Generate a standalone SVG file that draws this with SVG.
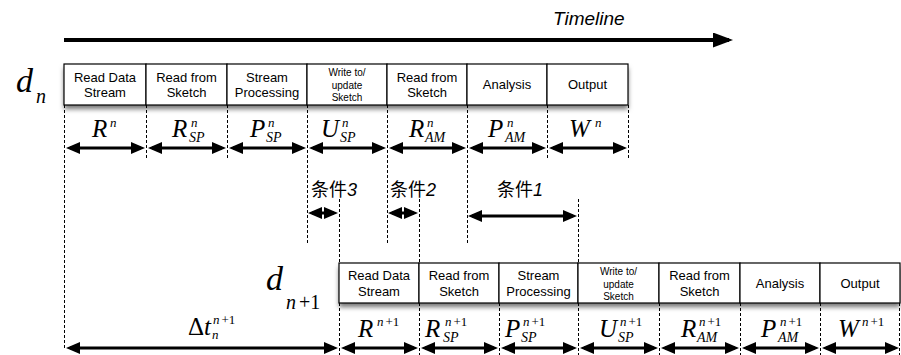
<svg xmlns="http://www.w3.org/2000/svg" width="901" height="355" viewBox="0 0 901 355">
<defs>
<style>
.cell{fill:#fff;stroke:#000;stroke-width:1.2}
.t{font-family:"Liberation Sans",Arial,sans-serif;font-size:13px;fill:#000;text-anchor:middle}
.ts{font-family:"Liberation Sans",Arial,sans-serif;font-size:10px;fill:#000;text-anchor:middle}
.m{font-family:"Liberation Serif","Times New Roman",serif;font-style:italic;font-size:25px;fill:#000}
.sp{font-family:"Liberation Serif","Times New Roman",serif;font-style:italic;font-size:14px;fill:#000}
.su{font-family:"Liberation Serif","Times New Roman",serif;font-style:italic;font-size:13px;fill:#000}
.dl{font-family:"Liberation Serif","Times New Roman",serif;font-style:italic;font-size:34px;fill:#000}
.ds{font-family:"Liberation Serif","Times New Roman",serif;font-style:italic;font-size:20px;fill:#000}
.up{font-style:normal}
.dash{stroke:#000;stroke-width:1;stroke-dasharray:3 2;fill:none}
.arr{stroke:#000;stroke-width:3;fill:none;marker-start:url(#ah);marker-end:url(#ah)}
.cj{font-family:"Liberation Sans","Noto Sans CJK SC",sans-serif;font-size:18px;fill:#000}
</style>
<marker id="ah" markerUnits="userSpaceOnUse" markerWidth="14" markerHeight="12" refX="10" refY="6" orient="auto-start-reverse">
<path d="M0,0 L14,6 L0,12 z" fill="#000"/>
</marker>
<marker id="ahT" markerUnits="userSpaceOnUse" markerWidth="20" markerHeight="15" refX="16" refY="7.5" orient="auto">
<path d="M0,0 L20,7.5 L0,15 z" fill="#000"/>
</marker>
<filter id="sh" x="-5%" y="-20%" width="110%" height="160%">
<feDropShadow dx="0" dy="4" stdDeviation="2.5" flood-color="#000" flood-opacity="0.55"/>
</filter>
</defs>
<rect width="901" height="355" fill="#fff"/>

<g id="timeline">
<line x1="64" y1="40" x2="729" y2="40" stroke="#000" stroke-width="4" marker-end="url(#ahT)"/>
<text x="553" y="25" font-family="'Liberation Sans',Arial,sans-serif" font-style="italic" font-size="19">Timeline</text>
</g>

<g id="dn">
<text class="dl" x="16" y="92">d</text>
<text class="ds" x="36" y="103">n</text>
</g>
<g id="dn1">
<text class="dl" x="266" y="290">d</text>
<text class="ds" x="286" y="309">n<tspan class="up" dx="3">+1</tspan></text>
</g>

<g id="row1" filter="url(#sh)">
<rect x="64" y="64" width="564" height="41" fill="#fff"/>
</g>
<g id="row2" filter="url(#sh)">
<rect x="339" y="263" width="561" height="40" fill="#fff"/>
</g>

<g id="n1-read-data">
<rect class="cell" x="64" y="64" width="82" height="41"/>
<text class="t" x="105" y="82">Read Data</text><text class="t" x="105" y="97">Stream</text>
</g>
<g id="n1-read-sketch">
<rect class="cell" x="146" y="64" width="81" height="41"/>
<text class="t" x="186.5" y="82">Read from</text><text class="t" x="186.5" y="97">Sketch</text>
</g>
<g id="n1-stream-proc">
<rect class="cell" x="227" y="64" width="80" height="41"/>
<text class="t" x="267" y="82">Stream</text><text class="t" x="267" y="97">Processing</text>
</g>
<g id="n1-write">
<rect class="cell" x="307" y="64" width="80" height="41"/>
<text class="ts" x="347" y="76">Write to/</text><text class="ts" x="347" y="88.5">update</text><text class="ts" x="347" y="101">Sketch</text>
</g>
<g id="n1-read-sketch2">
<rect class="cell" x="387" y="64" width="80" height="41"/>
<text class="t" x="427" y="82">Read from</text><text class="t" x="427" y="97">Sketch</text>
</g>
<g id="n1-analysis">
<rect class="cell" x="467" y="64" width="80" height="41"/>
<text class="t" x="507" y="89">Analysis</text>
</g>
<g id="n1-output">
<rect class="cell" x="547" y="64" width="81" height="41"/>
<text class="t" x="587.5" y="89">Output</text>
</g>

<g id="n2-read-data">
<rect class="cell" x="339" y="263" width="80" height="40"/>
<text class="t" x="379" y="280">Read Data</text><text class="t" x="379" y="296">Stream</text>
</g>
<g id="n2-read-sketch">
<rect class="cell" x="419" y="263" width="80" height="40"/>
<text class="t" x="459" y="280">Read from</text><text class="t" x="459" y="296">Sketch</text>
</g>
<g id="n2-stream-proc">
<rect class="cell" x="499" y="263" width="79" height="40"/>
<text class="t" x="538.5" y="280">Stream</text><text class="t" x="538.5" y="296">Processing</text>
</g>
<g id="n2-write">
<rect class="cell" x="578" y="263" width="81" height="40"/>
<text class="ts" x="618.5" y="275">Write to/</text><text class="ts" x="618.5" y="287.5">update</text><text class="ts" x="618.5" y="300">Sketch</text>
</g>
<g id="n2-read-sketch2">
<rect class="cell" x="659" y="263" width="81" height="40"/>
<text class="t" x="699.5" y="280">Read from</text><text class="t" x="699.5" y="296">Sketch</text>
</g>
<g id="n2-analysis">
<rect class="cell" x="740" y="263" width="80" height="40"/>
<text class="t" x="780" y="288">Analysis</text>
</g>
<g id="n2-output">
<rect class="cell" x="820" y="263" width="80" height="40"/>
<text class="t" x="860" y="288">Output</text>
</g>

<g id="connectors">
<line class="dash" x1="64.5" y1="105" x2="64.5" y2="350"/>
<line class="dash" x1="146.5" y1="105" x2="146.5" y2="160"/>
<line class="dash" x1="227.5" y1="105" x2="227.5" y2="160"/>
<line class="dash" x1="307.5" y1="105" x2="307.5" y2="245"/>
<line class="dash" x1="387.5" y1="105" x2="387.5" y2="245"/>
<line class="dash" x1="467.5" y1="105" x2="467.5" y2="245"/>
<line class="dash" x1="547.5" y1="105" x2="547.5" y2="160"/>
<line class="dash" x1="628.5" y1="105" x2="628.5" y2="160"/>

<line class="dash" x1="339.5" y1="199" x2="339.5" y2="263"/>
<line class="dash" x1="419.5" y1="199" x2="419.5" y2="263"/>
<line class="dash" x1="578.5" y1="199" x2="578.5" y2="263"/>

<line class="dash" x1="339.5" y1="303" x2="339.5" y2="355"/>
<line class="dash" x1="419.5" y1="303" x2="419.5" y2="355"/>
<line class="dash" x1="499.5" y1="303" x2="499.5" y2="355"/>
<line class="dash" x1="578.5" y1="303" x2="578.5" y2="355"/>
<line class="dash" x1="659.5" y1="303" x2="659.5" y2="355"/>
<line class="dash" x1="740.5" y1="303" x2="740.5" y2="355"/>
<line class="dash" x1="820.5" y1="303" x2="820.5" y2="355"/>
<line class="dash" x1="899.5" y1="303" x2="899.5" y2="355"/>

<line class="arr" x1="70" y1="148" x2="141" y2="148"/>
<line class="arr" x1="152" y1="148" x2="222" y2="148"/>
<line class="arr" x1="233" y1="148" x2="302" y2="148"/>
<line class="arr" x1="313" y1="148" x2="382" y2="148"/>
<line class="arr" x1="393" y1="148" x2="462" y2="148"/>
<line class="arr" x1="473" y1="148" x2="542" y2="148"/>
<line class="arr" x1="553" y1="148" x2="623" y2="148"/>

<line class="arr" x1="312" y1="213" x2="334" y2="213"/>
<line class="arr" x1="392" y1="213" x2="414" y2="213"/>
<line class="arr" x1="472" y1="216" x2="573" y2="216" stroke-width="2.5"/>

<line class="arr" x1="70" y1="348" x2="334" y2="348"/>
<line class="arr" x1="345" y1="348" x2="414" y2="348"/>
<line class="arr" x1="425" y1="348" x2="494" y2="348"/>
<line class="arr" x1="505" y1="348" x2="573" y2="348"/>
<line class="arr" x1="584" y1="348" x2="654" y2="348"/>
<line class="arr" x1="665" y1="348" x2="735" y2="348"/>
<line class="arr" x1="746" y1="348" x2="815" y2="348"/>
<line class="arr" x1="826" y1="348" x2="895" y2="348"/>
</g>

<g id="cond-labels">
<text class="cj" x="311" y="196">条件<tspan font-style="italic">3</tspan></text>
<text class="cj" x="390" y="196">条件<tspan font-style="italic">2</tspan></text>
<text class="cj" x="497" y="196">条件<tspan font-style="italic">1</tspan></text>
</g>

<g id="labels-row1">
<text class="m" x="92" y="137">R</text><text class="su" x="110" y="127">n</text>
<text class="m" x="172" y="137">R</text><text class="su" x="191" y="127">n</text><text class="sp" x="189" y="142">SP</text>
<text class="m" x="250" y="137">P</text><text class="su" x="268" y="127">n</text><text class="sp" x="266" y="142">SP</text>
<text class="m" x="321" y="137">U</text><text class="su" x="342" y="127">n</text><text class="sp" x="340" y="142">SP</text>
<text class="m" x="409" y="137">R</text><text class="su" x="427" y="127">n</text><text class="sp" x="425" y="142">AM</text>
<text class="m" x="488" y="137">P</text><text class="su" x="507" y="127">n</text><text class="sp" x="505" y="142">AM</text>
<text class="m" x="569" y="137">W</text><text class="su" x="595" y="127">n</text>
</g>

<g id="labels-row2">
<text class="m" x="188" y="335"><tspan class="up">Δ</tspan>t</text><text class="su" x="213" y="324">n<tspan class="up" dx="2">+1</tspan></text><text class="su" x="212" y="339">n</text>
<text class="m" x="358" y="337">R</text><text class="su" x="377" y="326">n<tspan class="up" dx="2">+1</tspan></text>
<text class="m" x="425" y="337">R</text><text class="su" x="445" y="326">n<tspan class="up" dx="2">+1</tspan></text><text class="sp" x="443" y="342">SP</text>
<text class="m" x="505" y="337">P</text><text class="su" x="523" y="326">n<tspan class="up" dx="2">+1</tspan></text><text class="sp" x="521" y="342">SP</text>
<text class="m" x="599" y="337">U</text><text class="su" x="620" y="326">n<tspan class="up" dx="2">+1</tspan></text><text class="sp" x="618" y="342">SP</text>
<text class="m" x="681" y="337">R</text><text class="su" x="699" y="326">n<tspan class="up" dx="2">+1</tspan></text><text class="sp" x="697" y="342">AM</text>
<text class="m" x="761" y="337">P</text><text class="su" x="780" y="326">n<tspan class="up" dx="2">+1</tspan></text><text class="sp" x="778" y="342">AM</text>
<text class="m" x="838" y="337">W</text><text class="su" x="862" y="326">n<tspan class="up" dx="2">+1</tspan></text>
</g>
</svg>
